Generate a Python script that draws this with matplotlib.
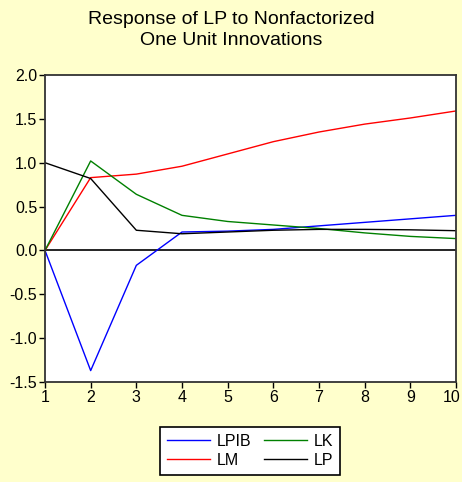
import numpy as np
import matplotlib.pyplot as plt
from matplotlib.transforms import ScaledTranslation

plt.rcParams['font.family'] = ['Liberation Sans', 'DejaVu Sans']

periods = [1, 2, 3, 4, 5, 6, 7, 8, 9, 10]
lpib = [0.0, -1.37, -0.17, 0.21, 0.22, 0.24, 0.28, 0.32, 0.36, 0.40]
lm = [0.0, 0.83, 0.87, 0.96, 1.10, 1.24, 1.35, 1.44, 1.51, 1.59]
lk = [0.0, 1.02, 0.64, 0.40, 0.33, 0.29, 0.25, 0.20, 0.16, 0.135]
lp = [1.0, 0.82, 0.23, 0.19, 0.21, 0.23, 0.24, 0.24, 0.235, 0.225]
yticks = [-1.5, -1.0, -0.5, 0.0, 0.5, 1.0, 1.5, 2.0]

bg = '#FFFFCC'
fig = plt.figure(figsize=(4.62, 4.82), dpi=100, facecolor=bg)
ax = fig.add_axes([45/462, 1 - 382/482, (456-45)/462, (382-75)/482])

l1, = ax.plot(periods, lpib, color='#0000FF', lw=1, label='LPIB')
l2, = ax.plot(periods, lm, color='#FF0000', lw=1, label='LM')
l3, = ax.plot(periods, lk, color='#008000', lw=1, label='LK')
l4, = ax.plot(periods, lp, color='#000000', lw=1, label='LP')
ax.axhline(0, color='black', lw=1.2, zorder=0)

ax.set_xlim(1, 10)
ax.set_ylim(-1.5, 2.0)
ax.set_xticks(periods)
ax.set_yticks(yticks)
ax.set_yticklabels(['%.1f' % v for v in yticks])
ax.tick_params(labelsize=11.5, length=4, width=1, colors='black', pad=1.5)
for s in ax.spines.values():
    s.set_linewidth(1.3)
    s.set_color('#333333')

# nudge the "10" label so it stays inside the figure
last = ax.get_xticklabels()[-1]
last.set_transform(last.get_transform() + ScaledTranslation(-4/100, 0, fig.dpi_scale_trans))

fig.text(0.5, 1 - 30/482, 'Response of LP to Nonfactorized\nOne Unit Innovations',
         ha='center', va='center', fontsize=14, linespacing=1.32)

# column-major fill: LPIB/LM in first column, LK/LP in second
leg = fig.legend(handles=[l1, l2, l3, l4], ncol=2, loc='center',
                 bbox_to_anchor=(250/462, 1 - 451/482), fontsize=11.5,
                 frameon=True, fancybox=False, edgecolor='black',
                 facecolor='white', framealpha=1, handlelength=2.7,
                 handletextpad=0.4, columnspacing=0.8, labelspacing=0.25,
                 borderpad=0.45)
leg.get_frame().set_linewidth(1.2)

fig.savefig('out.png', dpi=100, facecolor=bg)
